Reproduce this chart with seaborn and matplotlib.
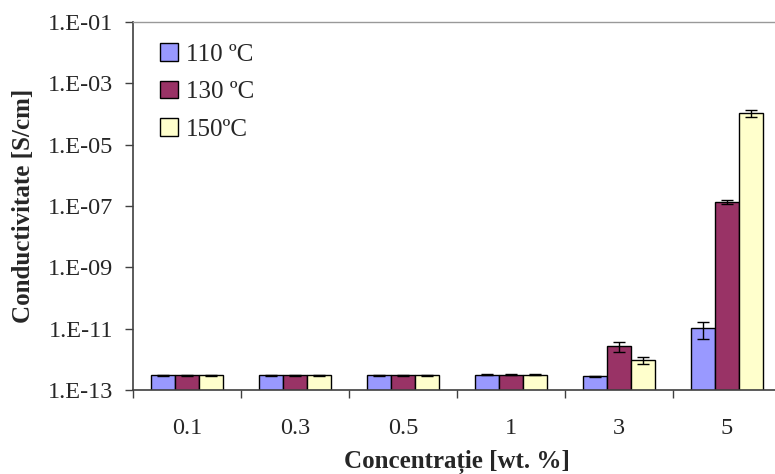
import numpy as np
import pandas as pd
import matplotlib
matplotlib.use("Agg")
import matplotlib.pyplot as plt
from matplotlib.ticker import FixedLocator, NullLocator
import seaborn as sns

concentrations = ["0.1", "0.3", "0.5", "1", "3", "5"]
temperatures = ["110 ºC", "130 ºC", "150ºC"]
values_110 = [3.0e-13, 3.0e-13, 3.0e-13, 3.1e-13, 2.8e-13, 1.05e-11]
values_130 = [3.0e-13, 3.0e-13, 3.0e-13, 3.1e-13, 2.7e-12, 1.4e-7]
values_150 = [3.0e-13, 3.0e-13, 3.0e-13, 3.1e-13, 9.3e-13, 1.1e-4]
errors_110 = [1.2e-14, 1.2e-14, 1.2e-14, 1.2e-14, 1.5e-14, 0.6e-11]
errors_130 = [1.2e-14, 1.2e-14, 1.2e-14, 1.2e-14, 0.9e-12, 0.2e-7]
errors_150 = [1.2e-14, 1.2e-14, 1.2e-14, 1.2e-14, 2.5e-13, 0.3e-4]
colors = ["#9999FF", "#993366", "#FFFFCC"]
ytick_exponents = [-13, -11, -9, -7, -5, -3, -1]

values = [values_110, values_130, values_150]
errors = [errors_110, errors_130, errors_150]
df = pd.DataFrame({
    "conc": concentrations * 3,
    "temp": [t for t in temperatures for _ in concentrations],
    "val": values_110 + values_130 + values_150,
})

sns.set_theme(style="ticks")
plt.rcParams["font.family"] = ["Liberation Serif", "DejaVu Serif"]
FS = 17.5

fig = plt.figure(figsize=(7.75, 4.74), dpi=100)
ax = fig.add_axes([133 / 775, 84 / 474, 648 / 775, 368 / 474])

sns.barplot(data=df, x="conc", y="val", hue="temp", order=concentrations,
            hue_order=temperatures, palette=colors, edgecolor="black",
            linewidth=1.0, width=2 / 3, gap=0, errorbar=None, ax=ax,
            saturation=1)
ax.set_yscale("log")

for cont, err in zip(ax.containers, errors):
    xs = [b.get_x() + b.get_width() / 2 for b in cont]
    ys = [b.get_y() + b.get_height() for b in cont]
    ax.errorbar(xs, ys, yerr=err, fmt="none", ecolor="black",
                elinewidth=1.0, capsize=4, capthick=1.0, zorder=5)

ax.set_ylim(1e-13, 1e-1)
ax.set_xlim(-0.5, 5.5)
ax.yaxis.set_major_locator(FixedLocator([10.0 ** e for e in ytick_exponents]))
ax.yaxis.set_minor_locator(NullLocator())
ax.set_yticklabels([f"1.E{e:03d}" for e in ytick_exponents], fontsize=FS)

ax.set_xticks(np.arange(-0.5, 6.0, 1.0))
ax.set_xticklabels([""] * 7)
ax.set_xticks(np.arange(6), minor=True)
ax.set_xticklabels(concentrations, minor=True, fontsize=FS)
ax.tick_params(axis="x", which="minor", length=0, pad=20.5)
ax.tick_params(axis="x", which="major", length=6, width=1, color="#404040", direction="out")
ax.tick_params(axis="y", which="major", length=6, width=1, color="#404040", pad=8.5, direction="out")

ax.set_xlabel("Concentrație [wt. %]", fontsize=18, fontweight="bold")
ax.set_ylabel("Conductivitate [S/cm]", fontsize=18, fontweight="bold")
ax.xaxis.set_label_coords(0.5, -0.163)
ax.yaxis.set_label_coords(-0.151, 0.5)

for side in ["left", "bottom"]:
    ax.spines[side].set_color("#404040")
    ax.spines[side].set_linewidth(1.2)
ax.spines["top"].set_color("#999999")
ax.spines["top"].set_linewidth(1.0)
ax.spines["right"].set_visible(False)

handles, labels = ax.get_legend_handles_labels()
ax.legend(handles, labels, loc="upper left",
          bbox_to_anchor=(160 / 775, 1 - 43 / 474), bbox_transform=fig.transFigure,
          frameon=False, fontsize=18, handlelength=0.72, handleheight=0.72,
          handletextpad=0.3, labelspacing=0.6, borderpad=0, borderaxespad=0)

fig.savefig("out.png", dpi=100)
